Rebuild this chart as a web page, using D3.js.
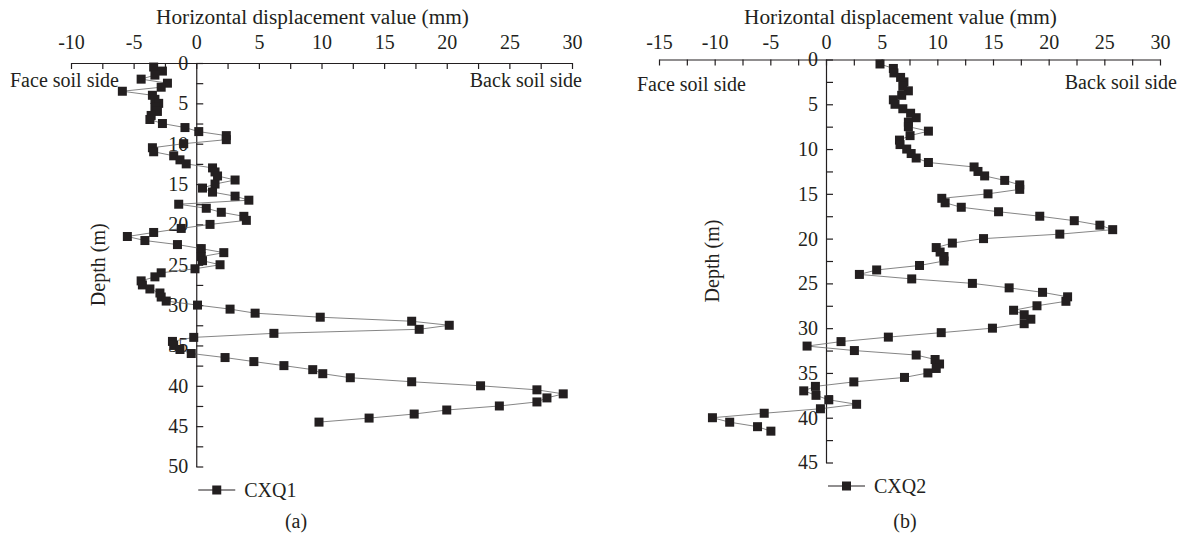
<!DOCTYPE html>
<html>
<head>
<meta charset="utf-8">
<script src="https://cdn.jsdelivr.net/npm/d3@7"></script>
<style>
  body { margin: 0; background: #fff; }
  svg text { font-family: "Liberation Serif", "DejaVu Serif", serif; font-size: 20px; fill: #231f20; }
  svg text.title { font-size: 21.3px; }
</style>
</head>
<body>
<svg id="chart"></svg>
<script>
// CXQ1, depth (m) and horizontal displacement (mm)
let depthA = [0.5, 1, 1.5, 2, 2.5, 3, 3.5, 4, 4.5, 5, 5.5, 6, 6.5, 7, 7.5, 8, 8.5, 9, 9.5, 10,
  10.5, 11, 11.5, 12, 12.5, 13, 13.5, 14, 14.5, 15, 15.5, 16, 16.5, 17, 17.5, 18, 18.5, 19, 19.5, 20,
  20.5, 21, 21.5, 22, 22.5, 23, 23.5, 24, 24.5, 25, 25.5, 26, 26.5, 27, 27.5, 28, 28.5, 29, 29.5, 30,
  30.5, 31, 31.5, 32, 32.5, 33, 33.5, 34, 34.5, 35, 35.5, 36, 36.5, 37, 37.5, 38, 38.5, 39, 39.5, 40,
  40.5, 41, 41.5, 42, 42.5, 43, 43.5, 44, 44.5]
let dispA = [-3.4, -2.7, -3.3, -4.4, -2.3, -2.8, -5.9, -3.5, -3.3, -3.0, -3.3, -3.1, -3.6, -3.7, -2.7, -0.9, 0.2, 2.4, 2.4, -1.0,
  -3.5, -3.4, -1.8, -1.3, -0.8, 1.3, 1.5, 1.7, 3.1, 1.5, 0.5, 1.3, 3.1, 4.2, -1.4, 0.8, 2.0, 3.8, 4.0, 1.1,
  -1.2, -3.4, -5.5, -4.1, -1.5, 0.4, 2.2, 0.4, 0.5, 1.9, -0.1, -2.8, -3.3, -4.4, -4.3, -3.7, -2.9, -2.8, -2.4, 0.1,
  2.7, 4.7, 9.9, 17.2, 20.2, 17.8, 6.2, -0.2, -1.9, -1.8, -1.3, -0.4, 2.3, 4.6, 7.0, 9.3, 10.1, 12.3, 17.2, 22.7,
  27.2, 29.3, 28.0, 27.2, 24.2, 20.0, 17.4, 13.8, 9.8]

// CXQ2
let depthB = [0.5, 1, 1.5, 2, 2.5, 3, 3.5, 4, 4.5, 5, 5.5, 6, 6.5, 7, 7.5, 8, 8.5, 9, 9.5, 10,
  10.5, 11, 11.5, 12, 12.5, 13, 13.5, 14, 14.5, 15, 15.5, 16, 16.5, 17, 17.5, 18, 18.5, 19, 19.5, 20,
  20.5, 21, 21.5, 22, 22.5, 23, 23.5, 24, 24.5, 25, 25.5, 26, 26.5, 27, 27.5, 28, 28.5, 29, 29.5, 30,
  30.5, 31, 31.5, 32, 32.5, 33, 33.5, 34, 34.5, 35, 35.5, 36, 36.5, 37, 37.5, 38, 38.5, 39, 39.5, 40,
  40.5, 41, 41.5]
let dispB = [4.85, 6.05, 6.1, 6.7, 7.0, 6.9, 7.4, 6.8, 6.05, 6.2, 6.9, 7.6, 8.1, 7.4, 7.4, 9.2, 7.55, 6.6, 6.65, 7.25,
  7.65, 8.1, 9.2, 13.3, 13.65, 14.25, 16.05, 17.4, 17.4, 14.55, 10.4, 10.7, 12.15, 15.5, 19.2, 22.3, 24.6, 25.75, 21.0, 14.15,
  11.35, 9.9, 10.25, 10.6, 10.6, 8.4, 4.55, 3.0, 7.7, 13.15, 16.45, 19.45, 21.7, 21.55, 18.95, 16.85, 17.8, 18.4, 17.8, 14.95,
  10.35, 5.6, 1.35, -1.7, 2.55, 8.1, 9.8, 10.2, 9.9, 9.15, 7.05, 2.5, -0.95, -2.0, -0.9, 0.25, 2.75, -0.5, -5.55, -10.2,
  -8.65, -6.15, -4.95]

let xLabelsA = [-10, -5, 0, 5, 10, 15, 20, 25, 30]
let xLabelsB = [-15, -10, -5, 0, 5, 10, 15, 20, 25, 30]
let yLabelsA = [0, 5, 10, 15, 20, 25, 30, 35, 40, 45, 50]
let yLabelsB = [0, 5, 10, 15, 20, 25, 30, 35, 40, 45]

let width = 1184
let height = 538
let ink = '#231f20'

let svg = d3.select('#chart')
            .attr('width', width)
            .attr('height', height)

let panels = [
  { name: 'CXQ1', tag: '(a)', depth: depthA, disp: dispA, xLabels: xLabelsA, yLabels: yLabelsA,
    xRange: [71, 572], yRange: [63, 466.5], xPad: 14, titleY: 24,
    face: [10, 87], back: [582, 87], depthX: 98, legendY: 490, tagX: 296 },
  { name: 'CXQ2', tag: '(b)', depth: depthB, disp: dispB, xLabels: xLabelsB, yLabels: yLabelsB,
    xRange: [659, 1160], yRange: [59.5, 462.5], xPad: 11, titleY: 24,
    face: [637, 91], back: [1177, 89], depthX: 712, legendY: 486, tagX: 905 }
]

let drawPanel = (p) => {
  let xScale = d3.scaleLinear()
                 .domain(d3.extent(p.xLabels))
                 .range(p.xRange)
  let yScale = d3.scaleLinear()
                 .domain(d3.extent(p.yLabels))
                 .range(p.yRange)

  // minor ticks halfway between labelled ones
  let minorX = p.xLabels.slice(1).map((v, i) => (v + p.xLabels[i]) / 2)
  let minorY = p.yLabels.slice(1).map((v, i) => (v + p.yLabels[i]) / 2)

  let g = svg.append('g')

  let xAxis = d3.axisTop(xScale)
                .tickValues(p.xLabels.concat(minorX))
                .tickSize(-6)
                .tickSizeOuter(0)
                .tickPadding(p.xPad)
                .tickFormat(d => p.xLabels.includes(d) ? String(d) : '')

  let yAxis = d3.axisLeft(yScale)
                .tickValues(p.yLabels.concat(minorY))
                .tickSize(-7)
                .tickSizeOuter(0)
                .tickPadding(8)
                .tickFormat(d => p.yLabels.includes(d) ? String(d) : '')

  g.append('g')
   .attr('transform', `translate(0, ${p.yRange[0]})`)
   .call(xAxis)

  g.append('g')
   .attr('transform', `translate(${xScale(0)}, 0)`)
   .call(yAxis)

  g.selectAll('.domain, .tick line')
   .attr('stroke', ink)
   .attr('stroke-width', 1.2)

  let pts = p.depth.map((d, i) => [p.disp[i], d])

  let line = d3.line()
               .x(d => xScale(d[0]))
               .y(d => yScale(d[1]))

  g.append('path')
   .datum(pts)
   .attr('d', line)
   .attr('fill', 'none')
   .attr('stroke', '#666')
   .attr('stroke-width', 0.8)

  g.selectAll('rect.pt')
   .data(pts)
   .enter()
   .append('rect')
   .attr('class', 'pt')
   .attr('x', d => xScale(d[0]) - 4.5)
   .attr('y', d => yScale(d[1]) - 4.5)
   .attr('width', 9)
   .attr('height', 9)
   .attr('fill', ink)

  // titles and side notes
  g.append('text')
   .attr('class', 'title')
   .attr('x', (p.xRange[0] + p.xRange[1]) / 2 - 9)
   .attr('y', p.titleY)
   .attr('text-anchor', 'middle')
   .text('Horizontal displacement value (mm)')

  g.append('text')
   .attr('x', p.face[0])
   .attr('y', p.face[1])
   .text('Face soil side')

  g.append('text')
   .attr('x', p.back[0])
   .attr('y', p.back[1])
   .attr('text-anchor', 'end')
   .text('Back soil side')

  let midY = (p.yRange[0] + p.yRange[1]) / 2
  g.append('text')
   .attr('transform', `translate(${p.depthX}, ${midY}) rotate(-90)`)
   .attr('text-anchor', 'middle')
   .attr('dy', '0.35em')
   .text('Depth (m)')

  // legend
  let lx = xScale(0)
  g.append('line')
   .attr('x1', lx + 2)
   .attr('x2', lx + 39)
   .attr('y1', p.legendY)
   .attr('y2', p.legendY)
   .attr('stroke', ink)
   .attr('stroke-width', 1.2)
  g.append('rect')
   .attr('x', lx + 20.5 - 4.5)
   .attr('y', p.legendY - 4.5)
   .attr('width', 9)
   .attr('height', 9)
   .attr('fill', ink)
  g.append('text')
   .attr('x', lx + 48)
   .attr('y', p.legendY)
   .attr('dy', '0.33em')
   .text(p.name)

  g.append('text')
   .attr('x', p.tagX)
   .attr('y', 528)
   .attr('text-anchor', 'middle')
   .text(p.tag)
}

panels.forEach(drawPanel)
</script>
</body>
</html>
